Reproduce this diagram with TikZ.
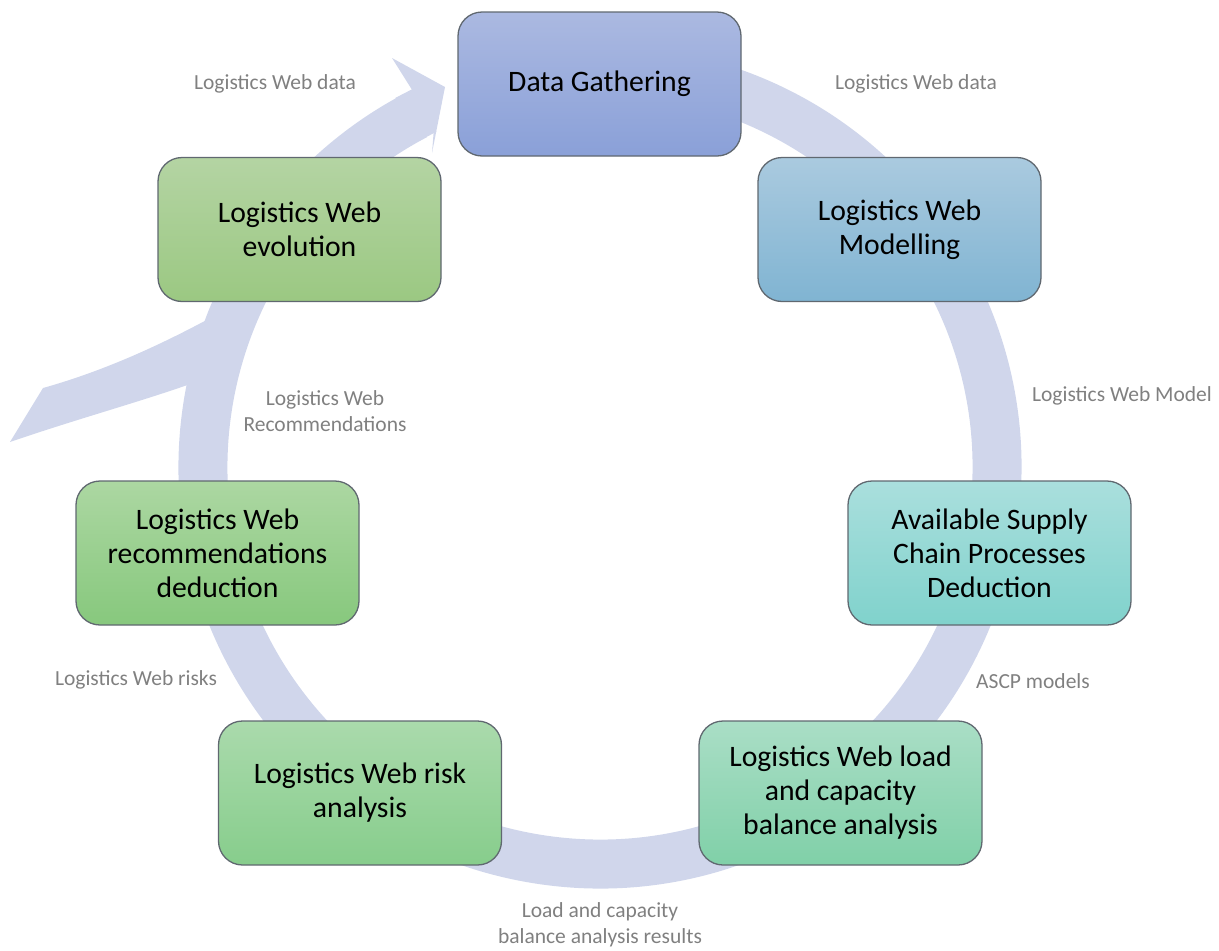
\documentclass[tikz,border=0pt]{standalone}
\usepackage{fontspec}
\setmainfont{Carlito}
\usetikzlibrary{calc}
\definecolor{ringcol}{RGB}{208,214,235}
\definecolor{lblcol}{RGB}{128,128,128}
\definecolor{bordercol}{RGB}{96,104,112}
\tikzset{
  box/.style={draw=bordercol, line width=1.3pt, rounded corners=24pt,
    minimum width=283pt, minimum height=144pt, align=center,
    font=\fontsize{29.7}{34}\selectfont, text=black},
  lbl/.style={align=center, text=lblcol, font=\fontsize{21.5}{26.5}\selectfont, inner sep=0pt},
}
\begin{document}
\begin{tikzpicture}[x=1pt,y=-1pt]
\useasboundingbox (0,0) rectangle (1219,951);
\coordinate (c) at (600,467);
% ring
\draw[ringcol, line width=49pt] (c) ++(-80:397) arc[start angle=-80, end angle=242.3, radius=397];
% arrow head
\fill[ringcol] ($(c)+(243.5:422)$) -- (392,58) -- (445,87) -- (432,153) -- ($(c)+(243.5:373)$) -- cycle;
\fill[ringcol] ($(c)+(241:422)$) -- ($(c)+(244:422)$) -- ($(c)+(244:373)$) -- ($(c)+(241:373)$) -- cycle;
% tail
\fill[ringcol] (10,442) .. controls (80,418) and (140,402) .. (196,382) -- (214,316)
   .. controls (155,348) and (100,372) .. (43,388) -- cycle;
% boxes
\node[box, top color={rgb,255:red,171;green,185;blue,225}, bottom color={rgb,255:red,138;green,160;blue,216}] (dg) at (599.5,84) {Data Gathering};
\node[box, top color={rgb,255:red,170;green,202;blue,223}, bottom color={rgb,255:red,128;green,180;blue,210}] (mod) at (899.5,229.5) {Logistics Web\\Modelling};
\node[box, top color={rgb,255:red,170;green,223;blue,221}, bottom color={rgb,255:red,128;green,210;blue,204}] (ascp) at (989.5,553) {Available Supply\\Chain Processes\\Deduction};
\node[box, top color={rgb,255:red,170;green,222;blue,198}, bottom color={rgb,255:red,128;green,208;blue,168}] (load) at (840.5,793) {Logistics Web load\\and capacity\\balance analysis};
\node[box, top color={rgb,255:red,170;green,218;blue,172}, bottom color={rgb,255:red,135;green,205;blue,140}] (risk) at (360,793) {Logistics Web risk\\analysis};
\node[box, top color={rgb,255:red,172;green,215;blue,162}, bottom color={rgb,255:red,135;green,200;blue,125}] (rec) at (217.5,553) {Logistics Web\\recommendations\\deduction};
\node[box, top color={rgb,255:red,180;green,212;blue,163}, bottom color={rgb,255:red,155;green,200;blue,130}] (evo) at (299.5,229.5) {Logistics Web\\evolution};
% labels
\node[lbl] (l1) at (275,84) {Logistics Web data};
\node[lbl] (l2) at (916,84) {Logistics Web data};
\node[lbl] (l3) at (1122,396) {Logistics Web Model};
\node[lbl] (l4) at (1033,681) {ASCP models};
\node[lbl] (l5) at (600,925) {Load and capacity\\balance analysis results};
\node[lbl] (l6) at (136,680) {Logistics Web risks};
\node[lbl] (l7) at (325,411) {Logistics Web\\Recommendations};
\end{tikzpicture}
\end{document}
